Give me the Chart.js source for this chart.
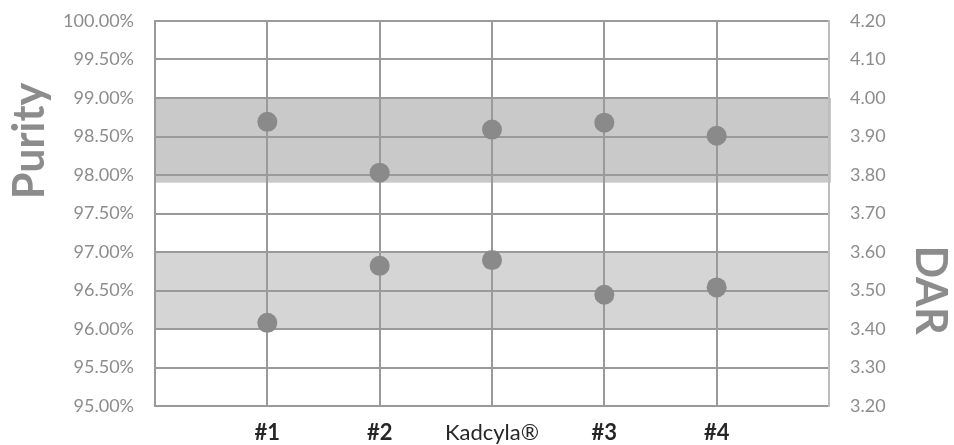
<!DOCTYPE html>
<html><head><meta charset="utf-8">
<script src="https://cdn.jsdelivr.net/npm/chart.js@4/dist/chart.umd.min.js"></script>
<style>html,body{margin:0;padding:0;background:#fff}#wrap{width:954px;height:445px;position:relative}</style>
</head><body><div id="wrap"><canvas id="c"></canvas></div>
<script>
const categories = ['#1', '#2', 'Kadcyla®', '#3', '#4'];
const purity = [98.69, 98.03, 98.59, 98.68, 98.51];
const dar = [3.416, 3.564, 3.579, 3.489, 3.508];
const purityRange = [95, 100, 0.5];
const darRange = [3.2, 4.2, 0.1];
const purityBand = [97.9, 99.0];
const darBand = [3.4, 3.6];
const titles = ['Purity', 'DAR'];

const GRID = '#9a9a9a';
const TICK = '#8c8c8c';
const DOT = '#8a8a8a';

const bandPlugin = {
  id: 'bands',
  beforeDraw(chart) {
    const {ctx, chartArea: a, scales} = chart;
    ctx.save();
    const yl = scales.yL, yr = scales.yR;
    let t = yl.getPixelForValue(purityBand[1]), b = yl.getPixelForValue(purityBand[0]);
    ctx.fillStyle = '#c9c9c9';
    ctx.fillRect(a.left, t, a.right - a.left + 2, b - t);
    t = yr.getPixelForValue(darBand[1]); b = yr.getPixelForValue(darBand[0]);
    ctx.fillStyle = '#d5d5d5';
    ctx.fillRect(a.left, t, a.right - a.left, b - t);
    ctx.restore();
  }
};

const titlePlugin = {
  id: 'titles',
  afterDraw(chart) {
    const {ctx} = chart;
    ctx.save();
    ctx.fillStyle = '#8c8c8c';
    ctx.font = 'bold 43px Lato';
    ctx.textAlign = 'center';
    ctx.textBaseline = 'middle';
    ctx.translate(30, 141);
    ctx.rotate(-Math.PI / 2);
    ctx.fillText(titles[0], 0, 0);
    ctx.restore();
    ctx.save();
    ctx.fillStyle = '#8c8c8c';
    ctx.font = 'bold 43px Lato';
    ctx.textAlign = 'center';
    ctx.textBaseline = 'middle';
    ctx.translate(930, 290);
    ctx.rotate(Math.PI / 2);
    ctx.fillText(titles[1], 0, 0);
    ctx.restore();
  }
};

const xs = categories.map((c, i) => i + 1);

new Chart(document.getElementById('c'), {
  type: 'scatter',
  data: {
    datasets: [
      {label: 'Purity', data: purity.map((v, i) => ({x: xs[i], y: v})), yAxisID: 'yL',
       backgroundColor: DOT, borderWidth: 0, pointRadius: 10, pointHoverRadius: 10},
      {label: 'DAR', data: dar.map((v, i) => ({x: xs[i], y: v})), yAxisID: 'yR',
       backgroundColor: DOT, borderWidth: 0, pointRadius: 10, pointHoverRadius: 10}
    ]
  },
  options: {
    responsive: true, maintainAspectRatio: false, animation: false, devicePixelRatio: 1,
    layout: {padding: {top: 21, left: 0, right: 0, bottom: 0}},
    plugins: {legend: {display: false}, tooltip: {enabled: false}},
    scales: {
      x: {
        type: 'linear', min: 0, max: categories.length + 1,
        ticks: {stepSize: 1, autoSkip: false, maxRotation: 0, padding: 14, color: '#262626',
          font: (c) => ({family: 'Lato', size: 22, weight: (c.tick && categories[c.tick.value - 1] === 'Kadcyla®') ? 'normal' : 'bold'}),
          callback: (v) => categories[v - 1] || ''},
        grid: {color: (c) => (c.tick && c.tick.value === categories.length + 1) ? '#bdbdbd' : GRID, lineWidth: 2, drawTicks: false},
        border: {color: GRID, width: 2},
        afterFit: (s) => { s.height = 39; s.paddingLeft = 0; s.paddingRight = 0; }
      },
      yL: {
        position: 'left', min: purityRange[0], max: purityRange[1],
        ticks: {stepSize: purityRange[2], padding: 21, color: TICK, font: {family: 'Lato', size: 18},
          callback: (v) => v.toFixed(2) + '%'},
        grid: {color: GRID, lineWidth: 2, drawTicks: false},
        border: {color: GRID, width: 2},
        afterFit: (s) => { s.width = 155; s.paddingTop = 0; s.paddingBottom = 0; }
      },
      yR: {
        position: 'right', min: darRange[0], max: darRange[1],
        ticks: {stepSize: darRange[2], padding: 21, color: TICK, font: {family: 'Lato', size: 18},
          callback: (v) => v.toFixed(2)},
        grid: {display: false, drawTicks: false},
        border: {color: '#bdbdbd', width: 2},
        afterFit: (s) => { s.width = 125; s.paddingTop = 0; s.paddingBottom = 0; }
      }
    }
  },
  plugins: [bandPlugin, titlePlugin]
});
</script>
</body></html>
